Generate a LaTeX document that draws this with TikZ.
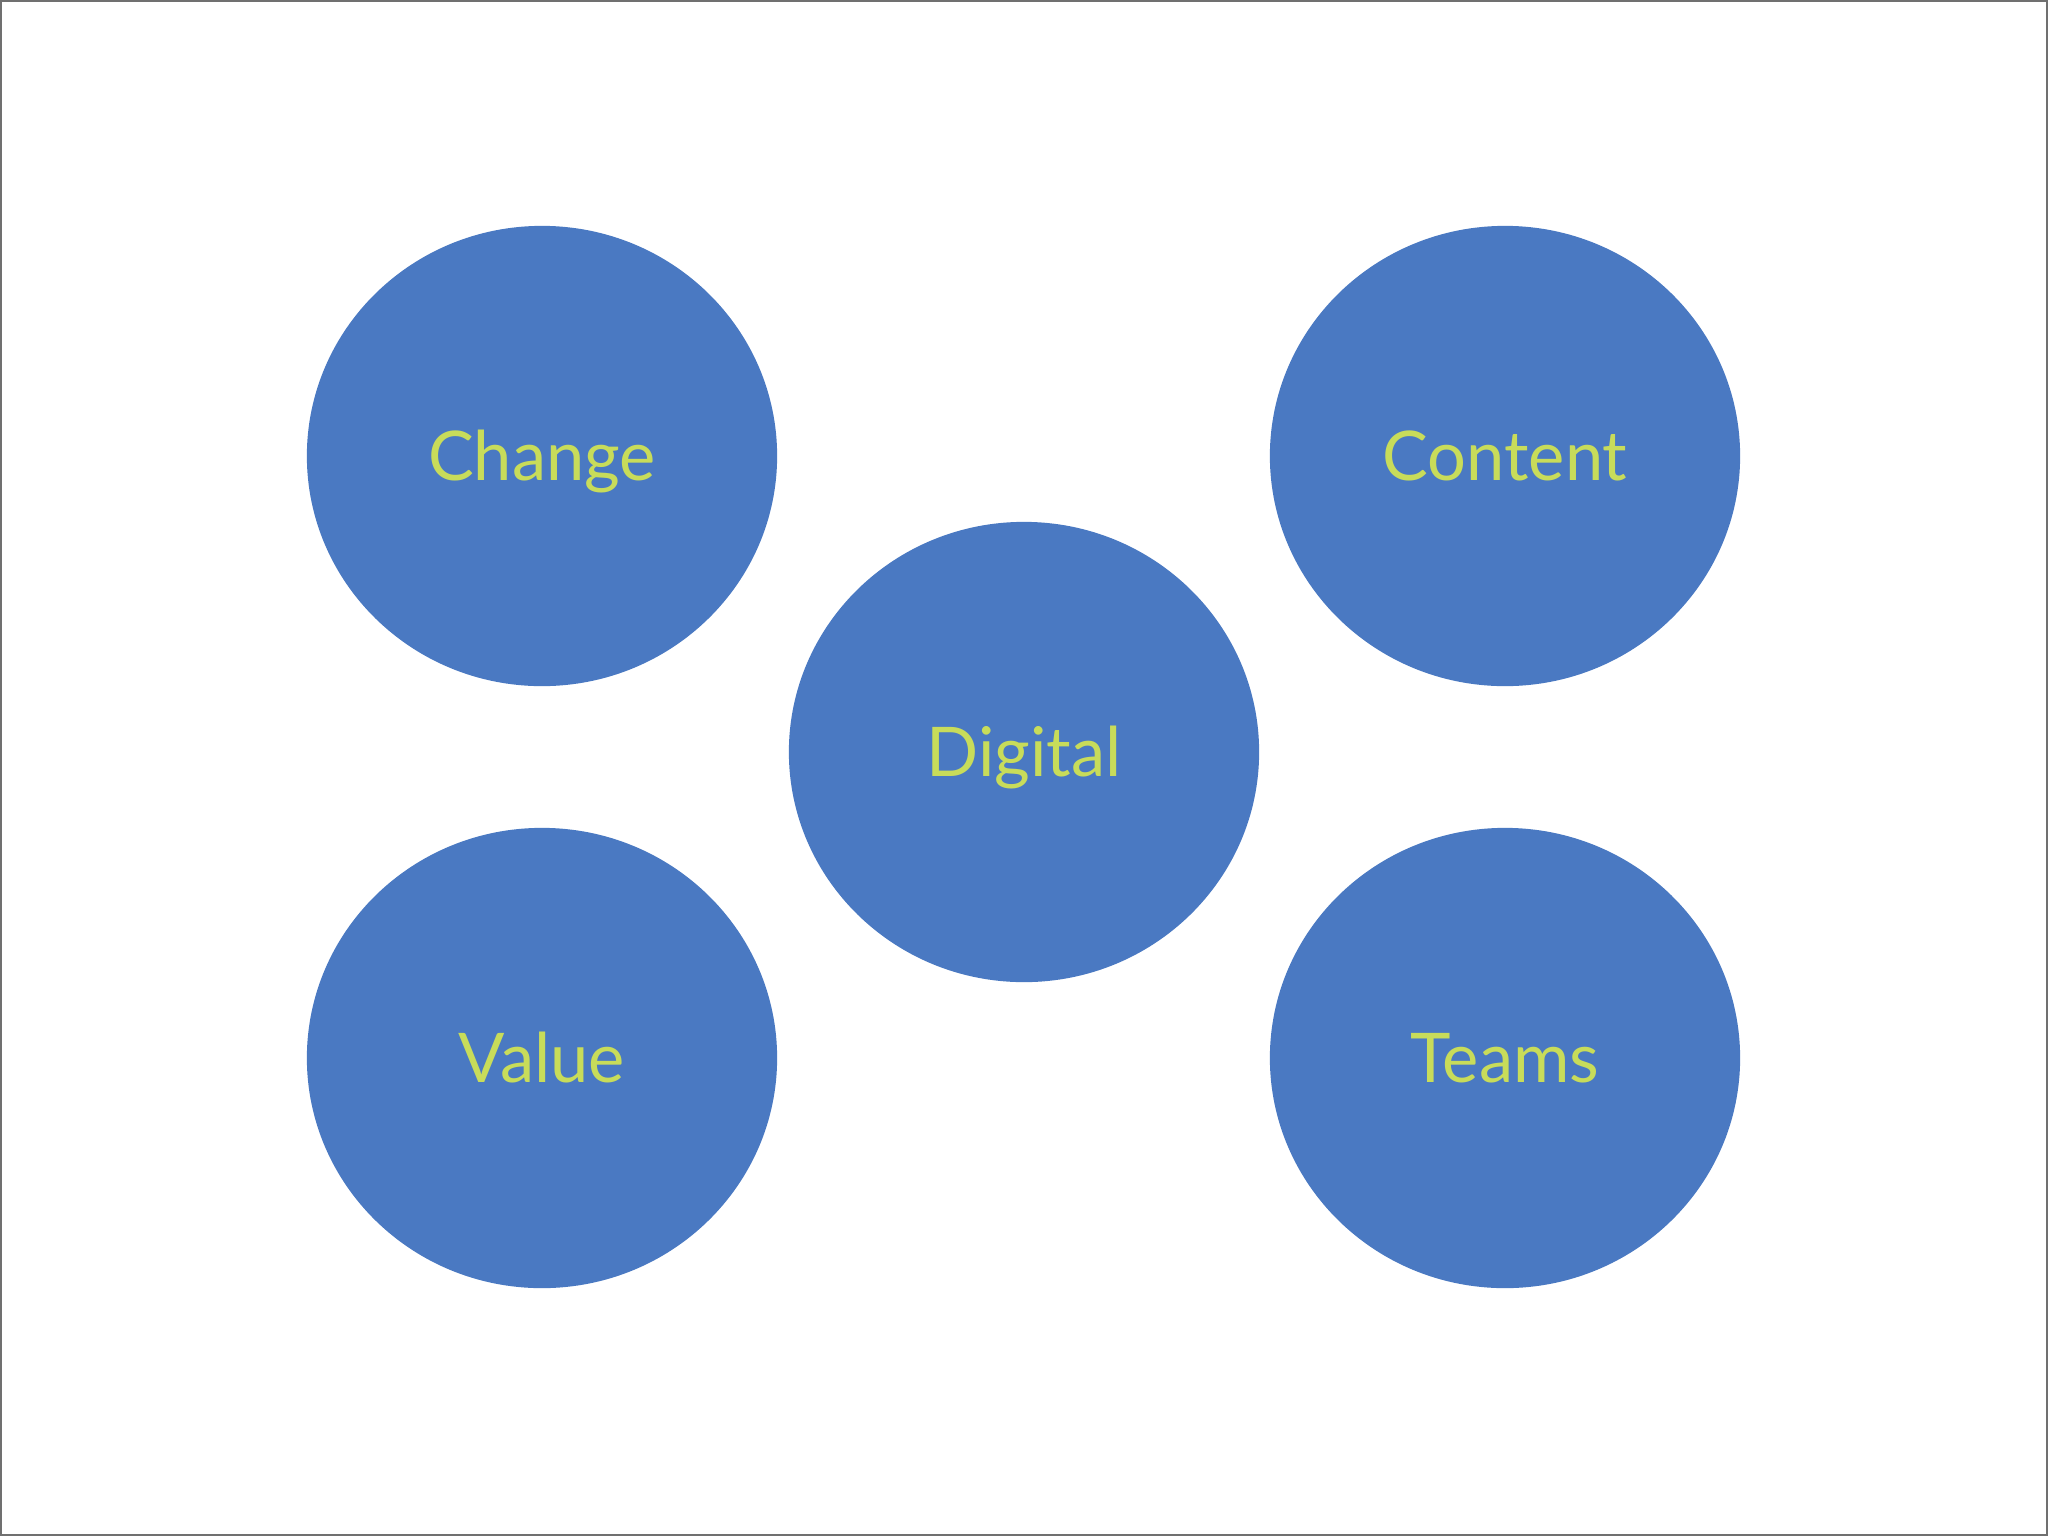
\documentclass[tikz,border=0pt]{standalone}
\usepackage{fontspec}
\setmainfont{Lato}
\definecolor{bubBlue}{HTML}{4A79C2}
\definecolor{bubText}{HTML}{C8DC5A}
\definecolor{frameGray}{HTML}{707070}
\usetikzlibrary{shapes.geometric}

\begin{document}
\begin{tikzpicture}[
  x=0.01cm, y=-0.01cm,
  bubble/.style={ellipse, fill=bubBlue, text=bubText, inner sep=0pt,
    minimum width=4.7cm, minimum height=4.6cm, text height=16pt, text depth=1.8pt,
    font=\fontsize{19.5}{22}\selectfont}
]
  \useasboundingbox (0,0) rectangle (2048,1536);
  \draw[frameGray, line width=0.6pt] (1,1) rectangle (2047,1535);

  \node[bubble] (change)  at (542,456)   {Change};
  \node[bubble] (content) at (1505,456)  {Content};
  \node[bubble] (digital) at (1024,752)  {Digital};
  \node[bubble] (value)   at (542,1058)  {Value};
  \node[bubble] (teams)   at (1505,1058) {Teams};
\end{tikzpicture}
\end{document}
